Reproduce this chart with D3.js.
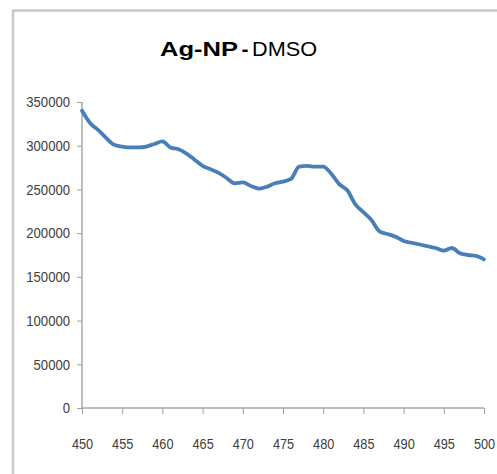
<!DOCTYPE html>
<html>
<head>
<meta charset="utf-8">
<script src="https://cdn.jsdelivr.net/npm/d3@7"></script>
<style>
  html, body { margin: 0; padding: 0; background: #fff; }
  svg { display: block; }
  .lbl { font-family: "Liberation Sans", Arial, sans-serif; }
</style>
</head>
<body>
<svg id="chart" width="497" height="474"></svg>
<script>
// Wavelength (nm) and measured intensity for Ag-NP in DMSO
const wavelengths = [450,451,452,453,454,455,456,457,458,459,460,461,462,463,464,465,466,467,468,469,470,
  471,472,473,474,475,476,477,478,479,480,481,482,483,484,485,486,487,488,489,490,
  491,492,493,494,495,496,497,498,499,500];
const intensity = [340000,326000,318000,309000,301000,299000,298000,298000,299000,302000,305000,
  298000,296000,291000,284000,277000,273000,269000,263000,257000,258000,
  254000,251000,253000,257000,259000,262000,276000,277000,276000,276000,
  268000,256000,249000,233000,224000,215000,202000,199000,196000,191000,
  189000,187000,185000,183000,180000,183000,177000,175000,174000,170000];
const xTicks = [450,455,460,465,470,475,480,485,490,495,500];
const yTicks = [0,50000,100000,150000,200000,250000,300000,350000];
const titleBold = "Ag-NP";
const titleDash = "-";
const titleRest = "DMSO";

const svg = d3.select("#chart");

// outer chart frame (open to the right and bottom)
svg.append("path")
  .attr("d", "M13,480 L13,10.5 L500,10.5")
  .attr("fill", "none").attr("stroke", "#c8c8c8").attr("stroke-width", 2.5);

const x = d3.scaleLinear().domain([450, 500]).range([82, 484]);
const y = d3.scaleLinear().domain([0, 350000]).range([408, 102]);

// title, set in narrow-fitted pieces
const titleG = svg.append("g").attr("class", "lbl").attr("fill", "#000");
titleG.append("text").attr("x", 160).attr("y", 56).attr("font-size", 21).attr("font-weight", "bold")
  .attr("textLength", 78).attr("lengthAdjust", "spacingAndGlyphs").text(titleBold);
titleG.append("text").attr("x", 241.5).attr("y", 56).attr("font-size", 21).attr("font-weight", "bold")
  .text(titleDash);
titleG.append("text").attr("x", 252).attr("y", 56).attr("font-size", 21)
  .attr("textLength", 65).attr("lengthAdjust", "spacingAndGlyphs").text(titleRest);

// condense tick labels horizontally, keeping their anchor point in place
function narrow(sel, sx) {
  sel.attr("class", "lbl").each(function () {
    const t = d3.select(this);
    const x0 = +t.attr("x") || 0;
    t.attr("x", x0 / sx).attr("transform", `scale(${sx},1)`);
  });
}

// y axis
const yAxis = svg.append("g").attr("transform", "translate(82,0)")
  .call(d3.axisLeft(y).tickValues(yTicks).tickFormat(d3.format("d")).tickSize(5).tickPadding(7));
yAxis.select(".domain").attr("stroke", "#bdbdbd").attr("stroke-width", 2)
  .attr("d", "M0,102V408");
yAxis.selectAll(".tick line").attr("stroke", "#a0a0a0");
yAxis.selectAll(".tick text").attr("font-size", 15).attr("fill", "#404040").call(narrow, 0.875);

// x axis
const xAxis = svg.append("g").attr("transform", "translate(0,408)")
  .call(d3.axisBottom(x).tickValues(xTicks).tickFormat(d3.format("d")).tickSize(6).tickPadding(24));
xAxis.select(".domain").attr("stroke", "#bdbdbd").attr("stroke-width", 2)
  .attr("d", "M82,0H484");
xAxis.selectAll(".tick line").attr("stroke", "#a0a0a0");
xAxis.selectAll(".tick text").attr("font-size", 15).attr("fill", "#404040").call(narrow, 0.85);

// spectrum line
const pts = wavelengths.map((w, i) => [w, intensity[i]]);
svg.append("path")
  .datum(pts)
  .attr("fill", "none")
  .attr("stroke", "#4a7ebb")
  .attr("stroke-width", 3.8)
  .attr("stroke-linejoin", "round")
  .attr("stroke-linecap", "round")
  .attr("d", d3.line().x(d => x(d[0])).y(d => y(d[1])).curve(d3.curveMonotoneX));
</script>
</body>
</html>
